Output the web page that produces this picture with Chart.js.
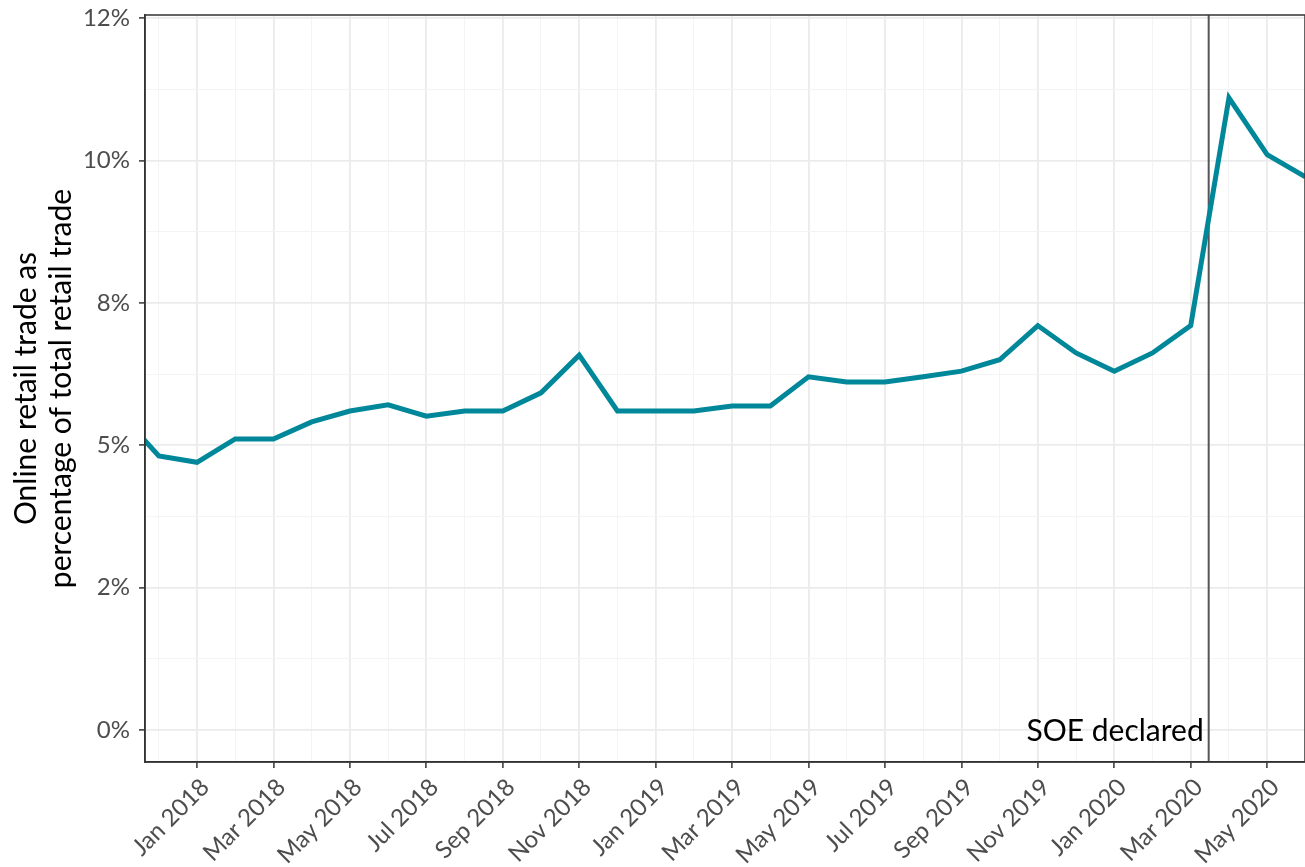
<!DOCTYPE html>
<html>
<head>
<meta charset="utf-8">
<script src="https://cdn.jsdelivr.net/npm/chart.js@4"></script>
<style>
  html, body { margin: 0; padding: 0; background: #ffffff; overflow: hidden; }
  #wrap { width: 1305px; height: 867px; position: relative; }
</style>
</head>
<body>
<div id="wrap"><canvas id="retailChart"></canvas></div>
<script>
// months of the series (Nov 2017 is only partly visible at the left edge)
const months = [
  'Nov 2017', 'Dec 2017',
  'Jan 2018', 'Feb 2018', 'Mar 2018', 'Apr 2018', 'May 2018', 'Jun 2018',
  'Jul 2018', 'Aug 2018', 'Sep 2018', 'Oct 2018', 'Nov 2018', 'Dec 2018',
  'Jan 2019', 'Feb 2019', 'Mar 2019', 'Apr 2019', 'May 2019', 'Jun 2019',
  'Jul 2019', 'Aug 2019', 'Sep 2019', 'Oct 2019', 'Nov 2019', 'Dec 2019',
  'Jan 2020', 'Feb 2020', 'Mar 2020', 'Apr 2020', 'May 2020', 'Jun 2020'
];
// online retail trade as % of total retail trade
const onlineShare = [
  5.55, 4.81,
  4.70, 5.11, 5.11, 5.41, 5.60, 5.71, 5.51, 5.60, 5.60, 5.92, 6.58, 5.60,
  5.60, 5.60, 5.69, 5.69, 6.20, 6.11, 6.11, 6.20, 6.30, 6.50, 7.10, 6.62,
  6.30, 6.62, 7.10, 11.10, 10.10, 9.71
];
const yTickValues = [0, 2.5, 5, 7.5, 10, 12.5];
const yTickLabels = ['0%', '2%', '5%', '8%', '10%', '12%'];
const soeMonth = 28.47;      // mid/late March 2020
const soeLabel = 'SOE declared';

const points = months.map((m, i) => ({ x: i, y: onlineShare[i] }));

const majorGrid = '#EBEBEB';
const minorGrid = '#F4F4F4';
const axisDark = '#333333';

const panelPlugin = {
  id: 'panel',
  beforeDatasetsDraw(chart) {
    const { ctx, chartArea, scales } = chart;
    const x = scales.x.getPixelForValue(soeMonth);
    ctx.save();
    ctx.strokeStyle = '#555555';
    ctx.lineWidth = 2;
    ctx.beginPath();
    ctx.moveTo(x, chartArea.top);
    ctx.lineTo(x, chartArea.bottom);
    ctx.stroke();
    ctx.fillStyle = '#000000';
    ctx.font = '30px Lato';
    ctx.textAlign = 'right';
    ctx.textBaseline = 'alphabetic';
    ctx.fillText(soeLabel, x - 5, chartArea.bottom - 21);
    ctx.restore();
  },
  afterDraw(chart) {
    const { ctx, chartArea } = chart;
    ctx.save();
    ctx.strokeStyle = axisDark;
    ctx.lineWidth = 1.5;
    ctx.strokeRect(chartArea.left, chartArea.top, chartArea.right - chartArea.left, chartArea.bottom - chartArea.top);
    ctx.restore();
  }
};

const ctx = document.getElementById('retailChart').getContext('2d');

new Chart(ctx, {
  type: 'line',
  data: {
    datasets: [{
      label: 'Online share',
      data: points,
      borderColor: '#00889A',
      borderWidth: 5,
      pointRadius: 0,
      tension: 0,
      clip: 0
    }]
  },
  options: {
    responsive: true,
    maintainAspectRatio: false,
    animation: false,
    layout: { padding: { top: 15, right: 0, left: 0, bottom: 0 } },
    plugins: {
      legend: { display: false },
      tooltip: { enabled: false }
    },
    scales: {
      x: {
        type: 'linear',
        min: 0.639,
        max: 30.99,
        afterBuildTicks(scale) {
          const t = [];
          for (let i = 1; i <= 31; i++) t.push({ value: i });
          scale.ticks = t;
        },
        afterFit(scale) {
          scale.height = 105;
          scale.paddingLeft = 0;
          scale.paddingRight = 0;
        },
        grid: {
          color: c => (c.tick && c.tick.value % 2 === 0) ? majorGrid : minorGrid,
          lineWidth: c => (c.tick && c.tick.value % 2 === 0) ? 1.8 : 1,
          tickColor: c => (c.tick && c.tick.value % 2 === 0) ? axisDark : 'rgba(0,0,0,0)',
          tickLength: 6,
          tickWidth: 1.5
        },
        border: { display: true, color: axisDark, width: 1.5 },
        ticks: {
          autoSkip: false,
          maxRotation: 45,
          minRotation: 45,
          padding: 5,
          labelOffset: 8,
          color: '#4D4D4D',
          font: { family: 'Lato', size: 24 },
          callback: v => (v % 2 === 0 && months[v]) ? months[v] : ''
        }
      },
      y: {
        min: -0.562,
        max: 12.553,
        afterBuildTicks(scale) {
          const t = [];
          for (let v = 0; v <= 12.5; v += 1.25) t.push({ value: v });
          scale.ticks = t;
        },
        afterFit(scale) {
          scale.width = 145;
          scale.paddingTop = 0;
          scale.paddingBottom = 0;
        },
        grid: {
          color: c => (c.tick && c.tick.value % 2.5 === 0) ? majorGrid : minorGrid,
          lineWidth: c => (c.tick && c.tick.value % 2.5 === 0) ? 1.8 : 1,
          tickColor: c => (c.tick && c.tick.value % 2.5 === 0) ? axisDark : 'rgba(0,0,0,0)',
          tickLength: 6,
          tickWidth: 1.5
        },
        border: { display: true, color: axisDark, width: 1.5 },
        ticks: {
          padding: 9,
          color: '#4D4D4D',
          font: { family: 'Lato', size: 24 },
          callback: v => {
            const k = yTickValues.indexOf(v);
            return k >= 0 ? yTickLabels[k] : '';
          }
        },
        title: {
          display: true,
          text: ['Online retail trade as', 'percentage of total retail trade'],
          color: '#000000',
          font: { family: 'Lato', size: 30, lineHeight: 1.17 },
          padding: { top: 9, bottom: 0 }
        }
      }
    }
  },
  plugins: [panelPlugin]
});
</script>
</body>
</html>
